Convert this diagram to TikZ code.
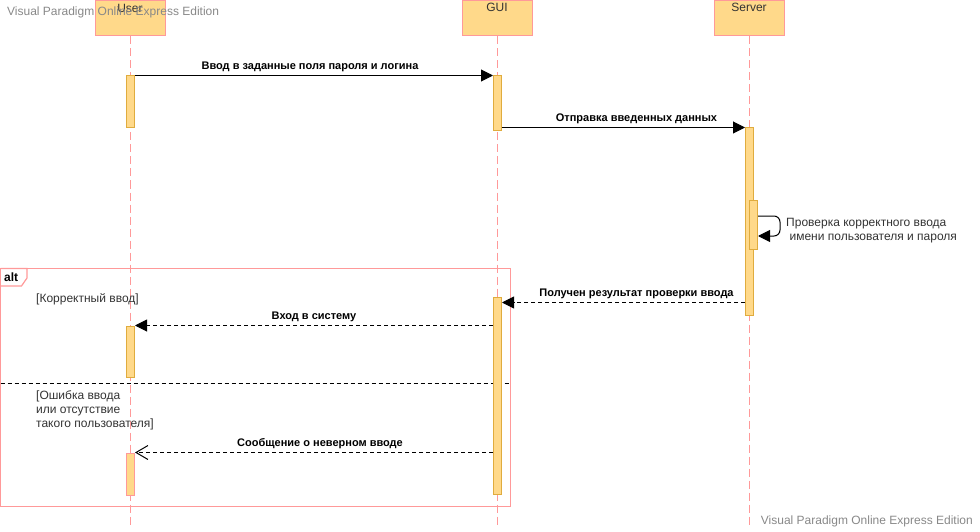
\documentclass[tikz,border=0pt]{standalone}
\usepackage{fontspec}
\setmainfont{Liberation Sans}
\usetikzlibrary{arrows.meta}
\definecolor{pinkline}{HTML}{FF9999}
\definecolor{barfill}{HTML}{FFD98A}
\definecolor{bardraw}{HTML}{E0AC3E}
\definecolor{guardtxt}{HTML}{333333}
\definecolor{wmark}{HTML}{888888}
\tikzset{
  header/.style={draw=pinkline, fill=barfill, line width=1pt, minimum width=70pt, minimum height=35pt, inner sep=0pt, anchor=north},
  hdrtext/.style={font=\fontsize{12}{14}\selectfont, text=guardtxt, inner sep=0pt},
  lifeline/.style={draw=pinkline, line width=1pt, dash pattern=on 8pt off 4pt},
  actbar/.style={draw=bardraw, fill=barfill, line width=1pt, minimum width=8pt, inner sep=0pt, anchor=north},
  actbarpink/.style={actbar, draw=pinkline},
  msg/.style={line width=1pt, -{Triangle[length=12pt,width=12pt]}},
  retmsg/.style={msg, dash pattern=on 4pt off 3pt},
  retopen/.style={line width=1pt, dash pattern=on 4pt off 3pt, -{Straight Barb[length=12pt,width=14pt,line width=1pt]}},
  msglabel/.style={font=\fontsize{11}{13}\selectfont\bfseries, inner sep=0pt},
  guard/.style={font=\fontsize{12}{14}\selectfont, text=guardtxt, inner sep=0pt, anchor=north west, align=left},
  wm/.style={font=\fontsize{12}{14}\selectfont, text=wmark, inner sep=0pt},
  altframe/.style={draw=pinkline, line width=1.2pt},
}
\begin{document}
\begin{tikzpicture}[x=1pt,y=-1pt]
\useasboundingbox (0,0) rectangle (980,532);
% lifeline headers
\node[header] (user) at (130,0.5) {};
\node[header] (gui) at (497,0.5) {};
\node[header] (server) at (749,0.5) {};
\node[hdrtext] (userlbl) at (130,8) {User};
\node[hdrtext] (guilbl) at (497,7) {GUI};
\node[hdrtext] (serverlbl) at (749,7) {Server};
% lifeline ends
\coordinate (userend) at (130.5,528);
\coordinate (guiend) at (497.5,528);
\coordinate (serverend) at (749.5,528);
\draw[lifeline] (userend |- user.south) -- (userend);
\draw[lifeline] (guiend |- gui.south) -- (guiend);
\draw[lifeline] (serverend |- server.south) -- (serverend);
% alt frame
\coordinate (altnw) at (0.6,268.5);
\coordinate (altse) at (510.5,506.5);
\draw[altframe] (altnw) rectangle (altse);
\draw[altframe] (altnw) -- (27,268.5) -- (27,278) -- (21.5,286) -- (0.6,286);
\node[font=\fontsize{12}{14}\selectfont\bfseries, inner sep=0pt, anchor=west] (altlbl) at (4,277) {alt};
\coordinate (sepl) at (0.5,383.5);
\coordinate (sepr) at (510.5,383.5);
\draw[line width=1pt, dash pattern=on 4pt off 3pt] (sepl) -- (sepr);
\node[guard] (g1) at (36,293) {[Корректный ввод]};
\node[guard] (g2) at (36,390) {[Ошибка ввода\\или отсутствие\\такого пользователя]};
% activation bars
\node[actbar, minimum height=52pt] (u1) at (130.5,75.5) {};
\node[actbar, minimum height=55pt] (gb1) at (497.5,75.5) {};
\node[actbar, minimum height=187pt] (sb1) at (749.5,127.5) {};
\node[actbar, minimum height=49pt] (sb2) at (753.5,199.5) {};
\node[actbar, minimum height=197pt] (gb2) at (497.5,296.5) {};
\node[actbar, minimum height=51pt] (u2) at (130.5,325.5) {};
\node[actbarpink, minimum height=42pt] (u3) at (130.5,452.5) {};
% messages
\draw[msg] (u1.north east) -- (gb1.north west) node[msglabel, midway, above=3pt, xshift=-4pt] (m1) {Ввод в заданные поля пароля и логина};
\draw[msg] (gb1.east |- sb1.north) -- (sb1.north west) node[msglabel, midway, above=3pt, xshift=13pt] (m2) {Отправка введенных данных};
\coordinate (selfa) at (0,216);
\coordinate (selfb) at (0,236);
\coordinate (selfr) at (780,0);
\draw[msg, rounded corners=6pt] (sb2.east |- selfa) -- (selfr |- selfa) -- (selfr |- selfb) -- (sb2.east |- selfb);
\node[font=\fontsize{12}{14}\selectfont, text=guardtxt, inner sep=0pt, anchor=west, align=left] (m3) at (786,231) {Проверка корректного ввода\\\ имени пользователя и пароля};
\coordinate (m4y) at (0,302.5);
\draw[retmsg] (sb1.west |- m4y) -- (gb2.east |- m4y) node[msglabel, midway, above=3pt, xshift=13pt] (m4) {Получен результат проверки ввода};
\draw[retmsg] (gb2.west |- u2.north) -- (u2.north east) node[msglabel, midway, above=3pt] (m5) {Вход в систему};
\draw[retopen] (gb2.west |- u3.north) -- (u3.north east) node[msglabel, midway, above=3pt, xshift=6pt] (m6) {Сообщение о неверном вводе};
% watermarks
\node[wm, anchor=west] (wm1) at (7,12) {Visual Paradigm Online Express Edition};
\node[wm, anchor=east] (wm2) at (973,521) {Visual Paradigm Online Express Edition};
\end{tikzpicture}
\end{document}
